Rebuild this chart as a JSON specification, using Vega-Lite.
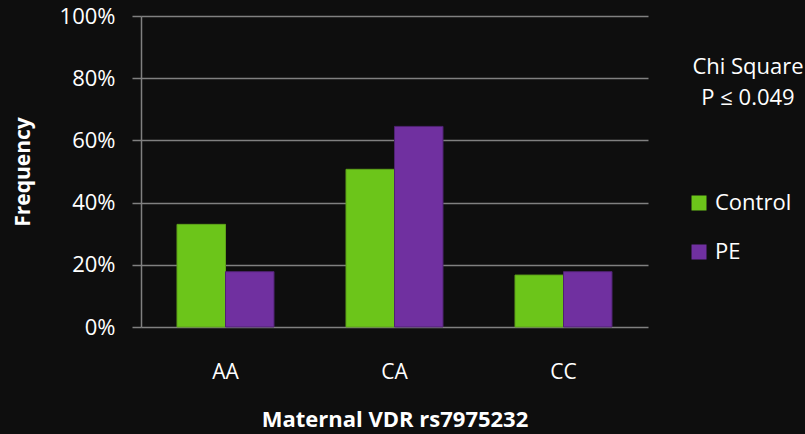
{
  "$schema": "https://vega.github.io/schema/vega-lite/v6.json",
  "width": 507,
  "height": 311,
  "autosize": {"type": "none"},
  "padding": {"left": 141, "top": 16, "right": 157, "bottom": 107},
  "background": "#0e0e0e",
  "config": {"view": {"stroke": null}, "font": "Open Sans"},
  "title": {
    "text": ["Chi Square", "P ≤ 0.049"],
    "anchor": "end",
    "align": "center",
    "baseline": "top",
    "dx": 100,
    "dy": 105,
    "offset": 0,
    "frame": "group",
    "font": "Open Sans",
    "fontSize": 22,
    "fontWeight": "normal",
    "color": "#ffffff",
    "lineHeight": 31
  },
  "data": {
    "values": [
      {"genotype": "AA", "group": "Control", "freq": 0.330},
      {"genotype": "AA", "group": "PE", "freq": 0.178},
      {"genotype": "CA", "group": "Control", "freq": 0.507},
      {"genotype": "CA", "group": "PE", "freq": 0.645},
      {"genotype": "CC", "group": "Control", "freq": 0.167},
      {"genotype": "CC", "group": "PE", "freq": 0.178}
    ]
  },
  "mark": {"type": "bar", "strokeWidth": 1},
  "encoding": {
    "x": {
      "field": "genotype",
      "type": "nominal",
      "scale": {"paddingInner": 0.426, "paddingOuter": 0.213},
      "axis": {
        "title": "Maternal VDR rs7975232",
        "labelAngle": 0,
        "ticks": false,
        "tickSize": 0,
        "domain": false,
        "labelPadding": 34,
        "labelFontSize": 21,
        "labelColor": "#ffffff",
        "labelFont": "Open Sans",
        "titleFont": "Open Sans",
        "titleFontSize": 22,
        "titleFontWeight": "bold",
        "titleColor": "#ffffff",
        "titlePadding": 27
      }
    },
    "xOffset": {
      "field": "group",
      "type": "nominal",
      "scale": {"paddingInner": 0, "paddingOuter": 0}
    },
    "y": {
      "field": "freq",
      "type": "quantitative",
      "scale": {"domain": [0, 1], "nice": false},
      "axis": {
        "title": "Frequency",
        "format": ".0%",
        "values": [0, 0.2, 0.4, 0.6, 0.8, 1],
        "grid": true,
        "gridColor": "#808080",
        "gridWidth": 1.5,
        "domainColor": "#808080",
        "domainWidth": 1.5,
        "tickColor": "#808080",
        "tickWidth": 1.5,
        "tickSize": 9,
        "labelPadding": 17,
        "labelFontSize": 22,
        "labelColor": "#ffffff",
        "labelFont": "Open Sans",
        "titleFont": "Open Sans",
        "titleFontSize": 21,
        "titleFontWeight": "bold",
        "titleColor": "#ffffff",
        "titlePadding": 26
      }
    },
    "color": {
      "field": "group",
      "type": "nominal",
      "scale": {"domain": ["Control", "PE"], "range": ["#6cc51a", "#7030a0"]},
      "legend": {
        "title": null,
        "orient": "none",
        "legendX": 547,
        "legendY": 176,
        "symbolType": "square",
        "symbolSize": 225,
        "symbolStrokeWidth": 0,
        "symbolOpacity": 1,
        "labelFontSize": 22,
        "labelFont": "Open Sans",
        "labelColor": "#ffffff",
        "labelOffset": 5,
        "rowPadding": 27
      }
    },
    "stroke": {
      "field": "group",
      "type": "nominal",
      "scale": {"domain": ["Control", "PE"], "range": ["#5ea01a", "#4f2272"]},
      "legend": null
    }
  }
}
